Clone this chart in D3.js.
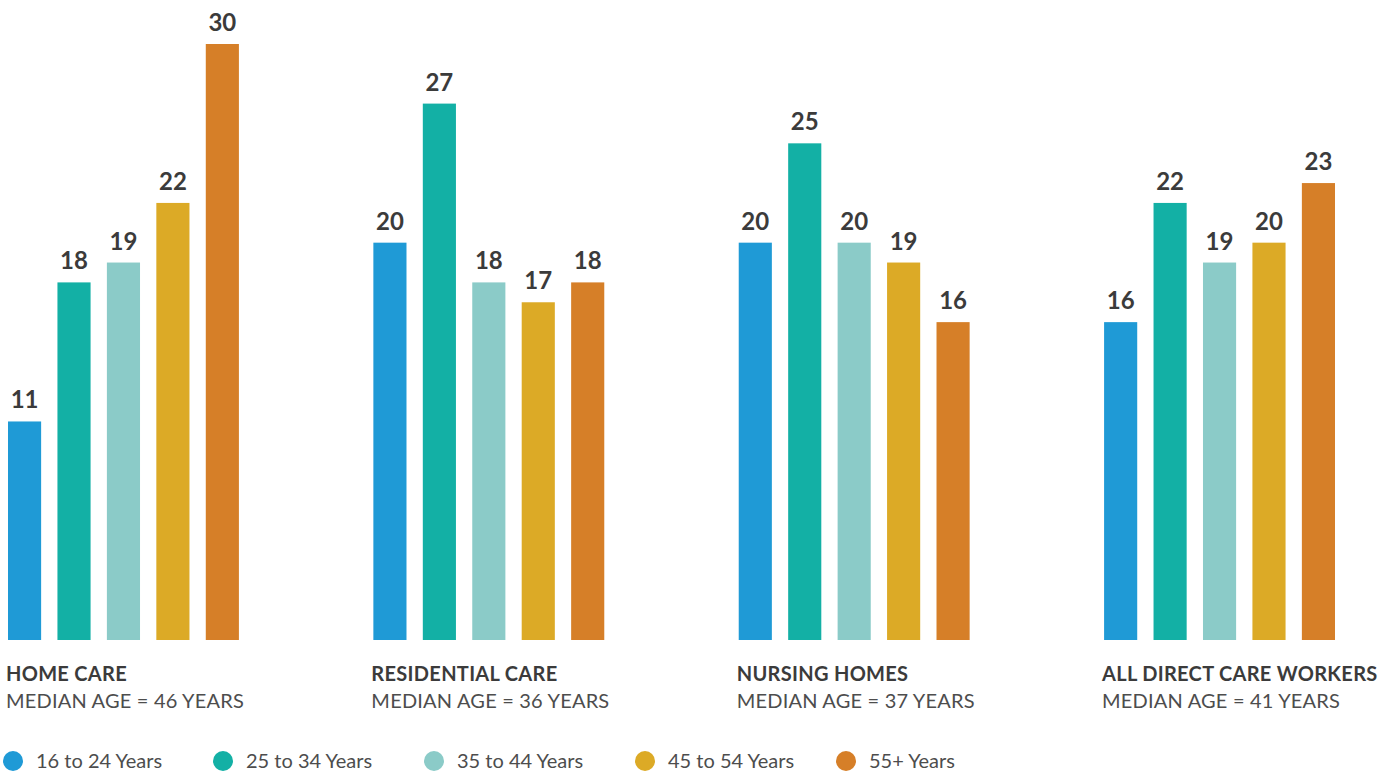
<!DOCTYPE html>
<html>
<head>
<meta charset="utf-8">
<script src="https://cdn.jsdelivr.net/npm/d3@7"></script>
<style>
  html, body { margin: 0; padding: 0; background: #fff; }
  svg { display: block; font-family: Lato, "Open Sans", sans-serif; }
</style>
</head>
<body>
<div id="chart"></div>
<script>
// data
const settings = ["HOME CARE", "RESIDENTIAL CARE", "NURSING HOMES", "ALL DIRECT CARE WORKERS"];
const medianAges = [46, 36, 37, 41];
const ageGroups = ["16 to 24 Years", "25 to 34 Years", "35 to 44 Years", "45 to 54 Years", "55+ Years"];
const homeCare = [11, 18, 19, 22, 30];
const residentialCare = [20, 27, 18, 17, 18];
const nursingHomes = [20, 25, 20, 19, 16];
const allWorkers = [16, 22, 19, 20, 23];
const Colors = ["#1f9ad6", "#13b0a5", "#8bcbc8", "#dcaa26", "#d67f28"];

const WIDTH = 1396, HEIGHT = 772;
const seriesBySetting = [homeCare, residentialCare, nursingHomes, allWorkers];

const svg = d3.select("#chart")
              .append("svg")
              .attr("width", WIDTH)
              .attr("height", HEIGHT);

// outer band = setting, inner band = age group
const x0 = d3.scaleBand()
             .domain(settings)
             .range([8, 1335])
             .paddingInner(0.368)
             .paddingOuter(0);
const x1 = d3.scaleBand()
             .domain(ageGroups)
             .range([0, x0.bandwidth()])
             .paddingInner(0.33)
             .paddingOuter(0);
const y = d3.scaleLinear()
            .domain([0, 30])
            .range([640, 44]);
const color = d3.scaleOrdinal().domain(ageGroups).range(Colors);

const groups = svg.selectAll("g.setting")
  .data(settings.map((s, i) => ({ name: s, median: medianAges[i], values: seriesBySetting[i] })))
  .enter()
  .append("g")
    .attr("class", "setting")
    .attr("transform", d => "translate(" + x0(d.name) + ",0)");

groups.selectAll("rect")
  .data(d => d.values.map((v, j) => ({ key: ageGroups[j], value: v })))
  .enter()
  .append("rect")
    .attr("x", d => x1(d.key))
    .attr("y", d => y(d.value))
    .attr("width", x1.bandwidth())
    .attr("height", d => y(0) - y(d.value))
    .attr("fill", d => color(d.key));

groups.selectAll("text.value")
  .data(d => d.values.map((v, j) => ({ key: ageGroups[j], value: v })))
  .enter()
  .append("text")
    .attr("class", "value")
    .attr("x", d => x1(d.key) + x1.bandwidth() / 2)
    .attr("y", d => y(d.value) - 13)
    .attr("text-anchor", "middle")
    .attr("font-size", 24)
    .attr("font-weight", "bold")
    .attr("fill", "#3b3b3b")
    .text(d => d.value);

// setting titles under the bars
groups.append("text")
    .attr("x", -2)
    .attr("y", 681)
    .attr("font-size", 20)
    .attr("font-weight", "bold")
    .attr("letter-spacing", 0.3)
    .attr("fill", "#3b3b3b")
    .text(d => d.name);
groups.append("text")
    .attr("x", -2)
    .attr("y", 708)
    .attr("font-size", 20)
    .attr("letter-spacing", 0.2)
    .attr("fill", "#4d4d4d")
    .text(d => "MEDIAN AGE = " + d.median + " YEARS");

// legend
const legendPos = [13, 223, 434, 645, 846];
const legend = svg.selectAll("g.legend")
  .data(ageGroups)
  .enter()
  .append("g")
    .attr("class", "legend")
    .attr("transform", (d, i) => "translate(" + legendPos[i] + ",761)");
legend.append("circle")
    .attr("r", 10)
    .attr("fill", d => color(d));
legend.append("text")
    .attr("x", 23)
    .attr("y", 7)
    .attr("font-size", 20)
    .attr("fill", "#4d4d4d")
    .text(d => d);
</script>
</body>
</html>
